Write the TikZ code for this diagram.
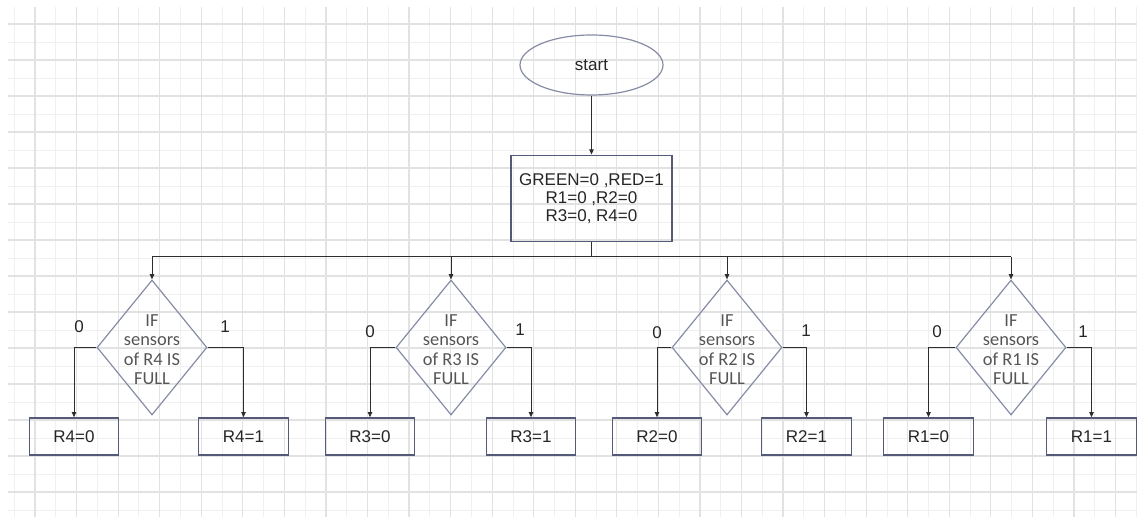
\documentclass[tikz,border=0pt]{standalone}
\usepackage{fontspec}
\setmainfont{Liberation Sans}
\newfontfamily\calfont{Carlito}
\usetikzlibrary{shapes.geometric,arrows.meta,positioning}

\definecolor{gridmaj}{RGB}{226,226,226}
\definecolor{gridmin}{RGB}{240,240,240}
\definecolor{boxline}{RGB}{85,90,120}
\definecolor{dialine}{RGB}{135,140,165}
\definecolor{diatext}{RGB}{85,85,85}
\definecolor{wirecol}{RGB}{45,45,45}

\begin{document}
\begin{tikzpicture}[x=0.5pt,y=-0.5pt,
  txt/.style={font=\fontsize{8.5}{9}\selectfont,text=black!85},
  block/.style={txt,draw=boxline,line width=0.7pt,rectangle,inner sep=0pt,
    minimum width=44.75pt,minimum height=18.5pt},
  decide/.style={draw=dialine,line width=0.6pt,diamond,inner sep=0pt,
    minimum width=55pt,minimum height=67.5pt},
  dtext/.style={font=\calfont\fontsize{9.2}{9.75}\selectfont,text=diatext,
    align=center,inner sep=0pt,yshift=-1pt},
  wire/.style={draw=wirecol,line width=0.5pt},
  arr/.style={wire,-{Triangle[length=2.6pt,width=2.2pt]}}]

        \useasboundingbox (0,0) rectangle (1137,517);

        % grid paper
        \foreach \k in {0,...,27} \draw[gridmin,line width=0.4pt] ({14.2+41.56*\k},7) -- ({14.2+41.56*\k},517);
        \foreach \k in {0,...,13} \draw[gridmin,line width=0.4pt] (8,{42+36*\k}) -- (1137,{42+36*\k});
        \foreach \k in {0,...,26} \draw[gridmaj,line width=0.6pt] ({35+41.56*\k},7) -- ({35+41.56*\k},517);
        \foreach \k in {0,...,13} \draw[gridmaj,line width=0.6pt] (8,{24+36*\k}) -- (1137,{24+36*\k});

        \node (start) [ellipse,draw=dialine,line width=0.6pt,minimum width=71.5pt,
          minimum height=30pt,txt] at (591.5,65) {start};
        \node (init) [block,minimum width=80.5pt,minimum height=43pt,align=center,
          below = 29.5pt of start] {GREEN=0 ,RED=1\\R1=0 ,R2=0\\R3=0, R4=0};
        \draw[arr] (start) -- (init);

        \node (d4) [decide,label={[dtext]center:{IF\\sensors\\of R4 IS\\FULL}}] at (152,347.5) {};
        \node (d3) [decide,label={[dtext]center:{IF\\sensors\\of R3 IS\\FULL}}] at (451,347.5) {};
        \node (d2) [decide,label={[dtext]center:{IF\\sensors\\of R2 IS\\FULL}}] at (727,347.5) {};
        \node (d1) [decide,label={[dtext]center:{IF\\sensors\\of R1 IS\\FULL}}] at (1011,347.5) {};

        \coordinate (busL) at (152,257);
        \coordinate (busR) at (1011,257);
        \draw[wire] (init.south) -- (init.south |- busL);
        \draw[wire] (busL) -- (busR);
        \foreach \d in {d4,d3,d2,d1} \draw[arr] (\d.north |- busL) -- (\d.north);

        \node (r40) [block] at (74,436.5) {R4=0};
        \node (r41) [block] at (243.5,436.5) {R4=1};
        \node (r30) [block] at (370,436.5) {R3=0};
        \node (r31) [block] at (531,436.5) {R3=1};
        \node (r20) [block] at (657,436.5) {R2=0};
        \node (r21) [block] at (806.5,436.5) {R2=1};
        \node (r10) [block] at (928.5,436.5) {R1=0};
        \node (r11) [block] at (1091.5,436.5) {R1=1};

        \draw[arr] (d4.west) -| (r40.north);
        \draw[arr] (d4.east) -| (r41.north);
        \draw[arr] (d3.west) -| (r30.north);
        \draw[arr] (d3.east) -| (r31.north);
        \draw[arr] (d2.west) -| (r20.north);
        \draw[arr] (d2.east) -| (r21.north);
        \draw[arr] (d1.west) -| (r10.north);
        \draw[arr] (d1.east) -| (r11.north);

        \node (d4no) [txt] at (79,327) {0};
        \node (d4yes) [txt] at (225,327) {1};
        \node (d3no) [txt] at (370,332) {0};
        \node (d3yes) [txt] at (520,330) {1};
        \node (d2no) [txt] at (657,333) {0};
        \node (d2yes) [txt] at (806,331) {1};
        \node (d1no) [txt] at (937,332) {0};
        \node (d1yes) [txt] at (1083,332) {1};
\end{tikzpicture}
\end{document}
